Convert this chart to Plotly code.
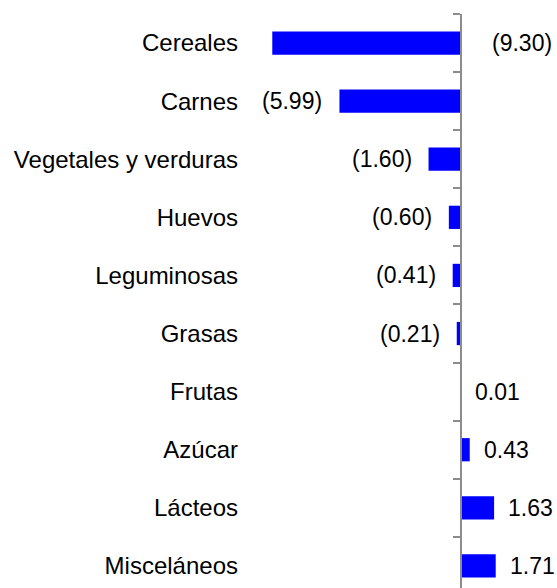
import plotly.graph_objects as go

categories = ["Cereales", "Carnes", "Vegetales y verduras", "Huevos", "Leguminosas",
              "Grasas", "Frutas", "Azúcar", "Lácteos", "Misceláneos"]
values = [-9.30, -5.99, -1.60, -0.60, -0.41, -0.21, 0.01, 0.43, 1.63, 1.71]

FONT = "Liberation Sans, Arial, sans-serif"
W, H = 557, 588
L, R, T, B = 239, 0, 14, 0
XMIN, XMAX = -10.94, 4.73

fig = go.Figure()
fig.add_trace(go.Bar(
    x=values, y=categories, orientation="h",
    marker=dict(color="#0000FF", line=dict(width=0)),
    width=0.4, hoverinfo="skip",
))
# invisible helper trace to drive the zero axis
fig.add_trace(go.Scatter(
    x=[0] * len(categories), y=categories, yaxis="y2", mode="markers",
    marker=dict(opacity=0), hoverinfo="skip", showlegend=False,
))


def fmt(v):
    return f"({abs(v):.2f})" if v < 0 else f"{v:.2f}"


annotations = []
for c, v in zip(categories, values):
    if v < 0 and v < XMIN + 2.5:
        annotations.append(dict(x=0, y=c, text=fmt(v), xanchor="left", xshift=29,
                                showarrow=False))
    elif v < 0:
        annotations.append(dict(x=v, y=c, text=fmt(v), xanchor="right", xshift=-15,
                                showarrow=False))
    else:
        annotations.append(dict(x=v, y=c, text=fmt(v), xanchor="left", xshift=12,
                                showarrow=False))
for a in annotations:
    a.update(xref="x", yref="y", font=dict(family=FONT, size=23, color="#000000"))

yrange = [9.38, -0.5]
fig.update_layout(
    width=W, height=H,
    margin=dict(l=L, r=R, t=T, b=B, pad=0),
    paper_bgcolor="white", plot_bgcolor="white",
    showlegend=False,
    font=dict(family=FONT, size=24, color="#000000"),
    xaxis=dict(range=[XMIN, XMAX], visible=False, fixedrange=True),
    yaxis=dict(type="category", categoryarray=categories, categoryorder="array",
               range=yrange, showline=False, showgrid=False, zeroline=False,
               ticks="", tickfont=dict(family=FONT, size=24, color="#000000"),
               automargin=False, fixedrange=True),
    yaxis2=dict(type="category", categoryarray=categories, categoryorder="array",
                range=yrange, overlaying="y", anchor="free",
                position=(0 - XMIN) / (XMAX - XMIN), side="left",
                showline=True, linecolor="#8C8C8C", linewidth=2,
                ticks="outside", tickson="boundaries", ticklen=7,
                tickcolor="#8C8C8C", tickwidth=2,
                showticklabels=False, showgrid=False, zeroline=False,
                automargin=False, fixedrange=True),
    annotations=annotations,
    bargap=0.6,
)

fig.write_html("out.html", config={"displayModeBar": False},
               post_script="document.body.style.margin='0px';")
